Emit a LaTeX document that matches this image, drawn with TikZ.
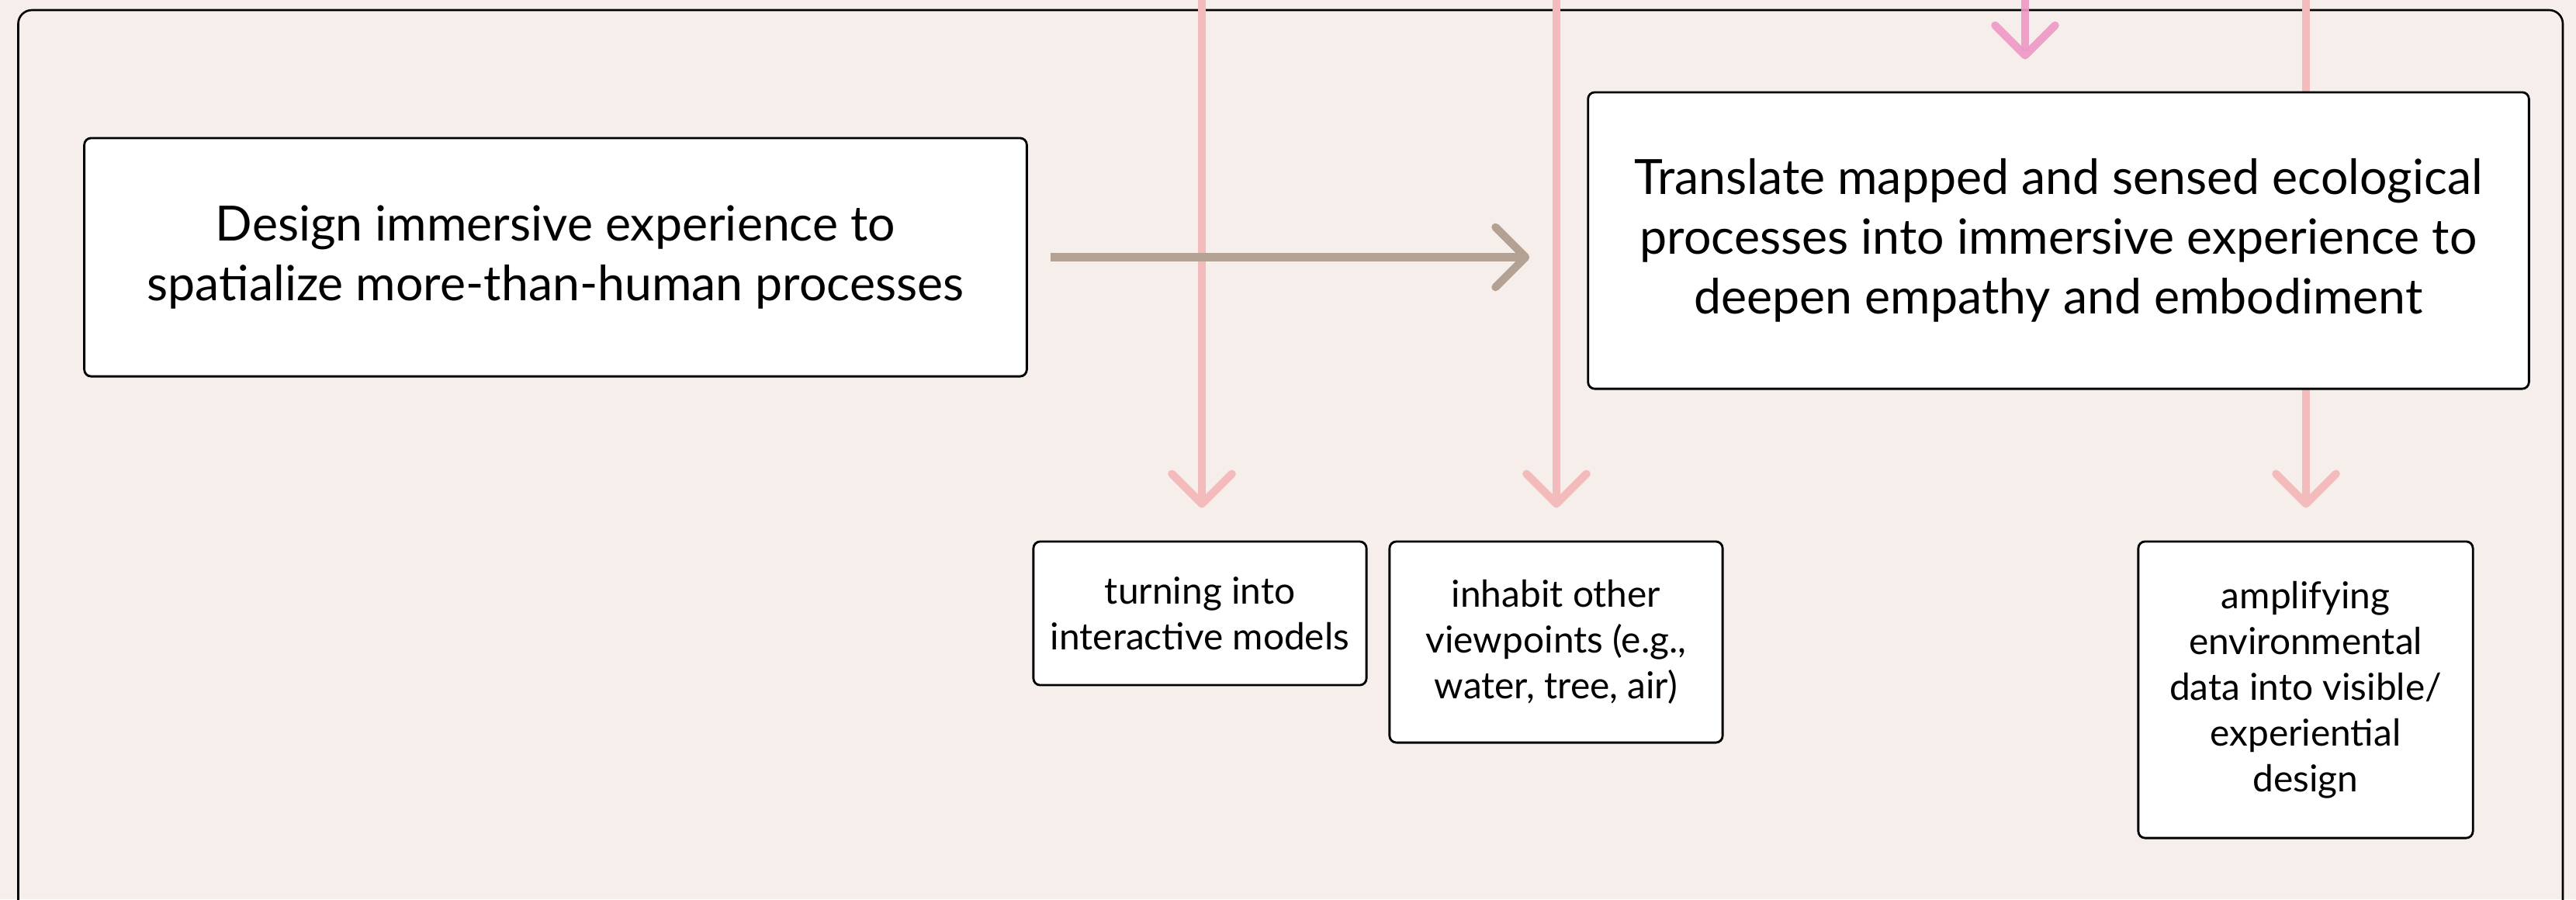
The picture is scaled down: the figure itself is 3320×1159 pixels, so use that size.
\documentclass[tikz,border=0pt]{standalone}
\usepackage{fontspec}
\setmainfont{Lato}
\usetikzlibrary{arrows.meta,backgrounds}
\definecolor{bgc}{HTML}{F6EEEB}
\definecolor{lpink}{HTML}{F3BBBB}
\definecolor{dpink}{HTML}{EE98C6}
\definecolor{brownc}{HTML}{B3A193}
\tikzset{
  box/.style={draw=black, fill=white, line width=0.8pt, rounded corners=2.5pt, inner sep=0pt, align=center},
  bigtxt/.style={font=\fontsize{17.8}{21.9}\selectfont},
  smalltxt/.style={font=\fontsize{13.6}{16.8}\selectfont},
  chev/.style={-{Straight Barb[length=11pt,width=22pt,round]}},
  pinkline/.style={draw=lpink, line width=2.9pt, chev},
  dpinkline/.style={draw=dpink, draw opacity=0.9, line width=2.9pt, chev},
  brownline/.style={draw=brownc, line width=2.9pt, chev}
}
\begin{document}
\begin{tikzpicture}[x=0.01cm,y=-0.01cm]
\useasboundingbox (0,0) rectangle (3320,1159);
\clip (0,0) rectangle (3320,1159);

\node[box, bigtxt, minimum width=12.14cm, minimum height=3.07cm] (b1) at (716,331.5)
  {Design immersive experience to\\spatialize more-than-human processes};
\node[box, bigtxt, minimum width=12.12cm, minimum height=3.82cm] (b2) at (2653,310)
  {Translate mapped and sensed ecological\\processes into immersive experience to\\deepen empathy and embodiment};
\node[box, smalltxt, minimum width=4.29cm, minimum height=1.85cm] (s1) at (1546.5,790.5)
  {turning into\\interactive models};
\node[box, smalltxt, minimum width=4.29cm, minimum height=2.59cm] (s2) at (2005.5,827.5)
  {inhabit other\\viewpoints (e.g.,\\water, tree, air)};
\node[box, smalltxt, minimum width=4.31cm, minimum height=3.82cm] (s3) at (2971.5,889)
  {amplifying\\environmental\\data into visible/\\experiential\\design};

\coordinate (t1) at (1549,-10);
\coordinate (t2) at (2006,-10);
\coordinate (t3) at (2972,-10);
\coordinate (t4) at (2610,-10);

\begin{pgfonlayer}{background}
  \fill[bgc] (0,0) rectangle (3320,1159);
  \draw[line width=0.75pt, rounded corners=5pt] (23.5,13) rectangle (3303,1250);
  \draw[pinkline, shorten >=0.42cm] (t1) -- (t1 |- s1.north);
  \draw[pinkline, shorten >=0.42cm] (t2) -- (t2 |- s2.north);
  \draw[pinkline, shorten >=0.42cm] (t3) -- (t3 |- s3.north);
\end{pgfonlayer}
\draw[dpinkline, shorten >=0.41cm] (t4) -- (t4 |- b2.north);
\draw[brownline, shorten <=0.29cm, shorten >=0.74cm] (b1.east) -- (b1.east -| b2.west);
\end{tikzpicture}
\end{document}
